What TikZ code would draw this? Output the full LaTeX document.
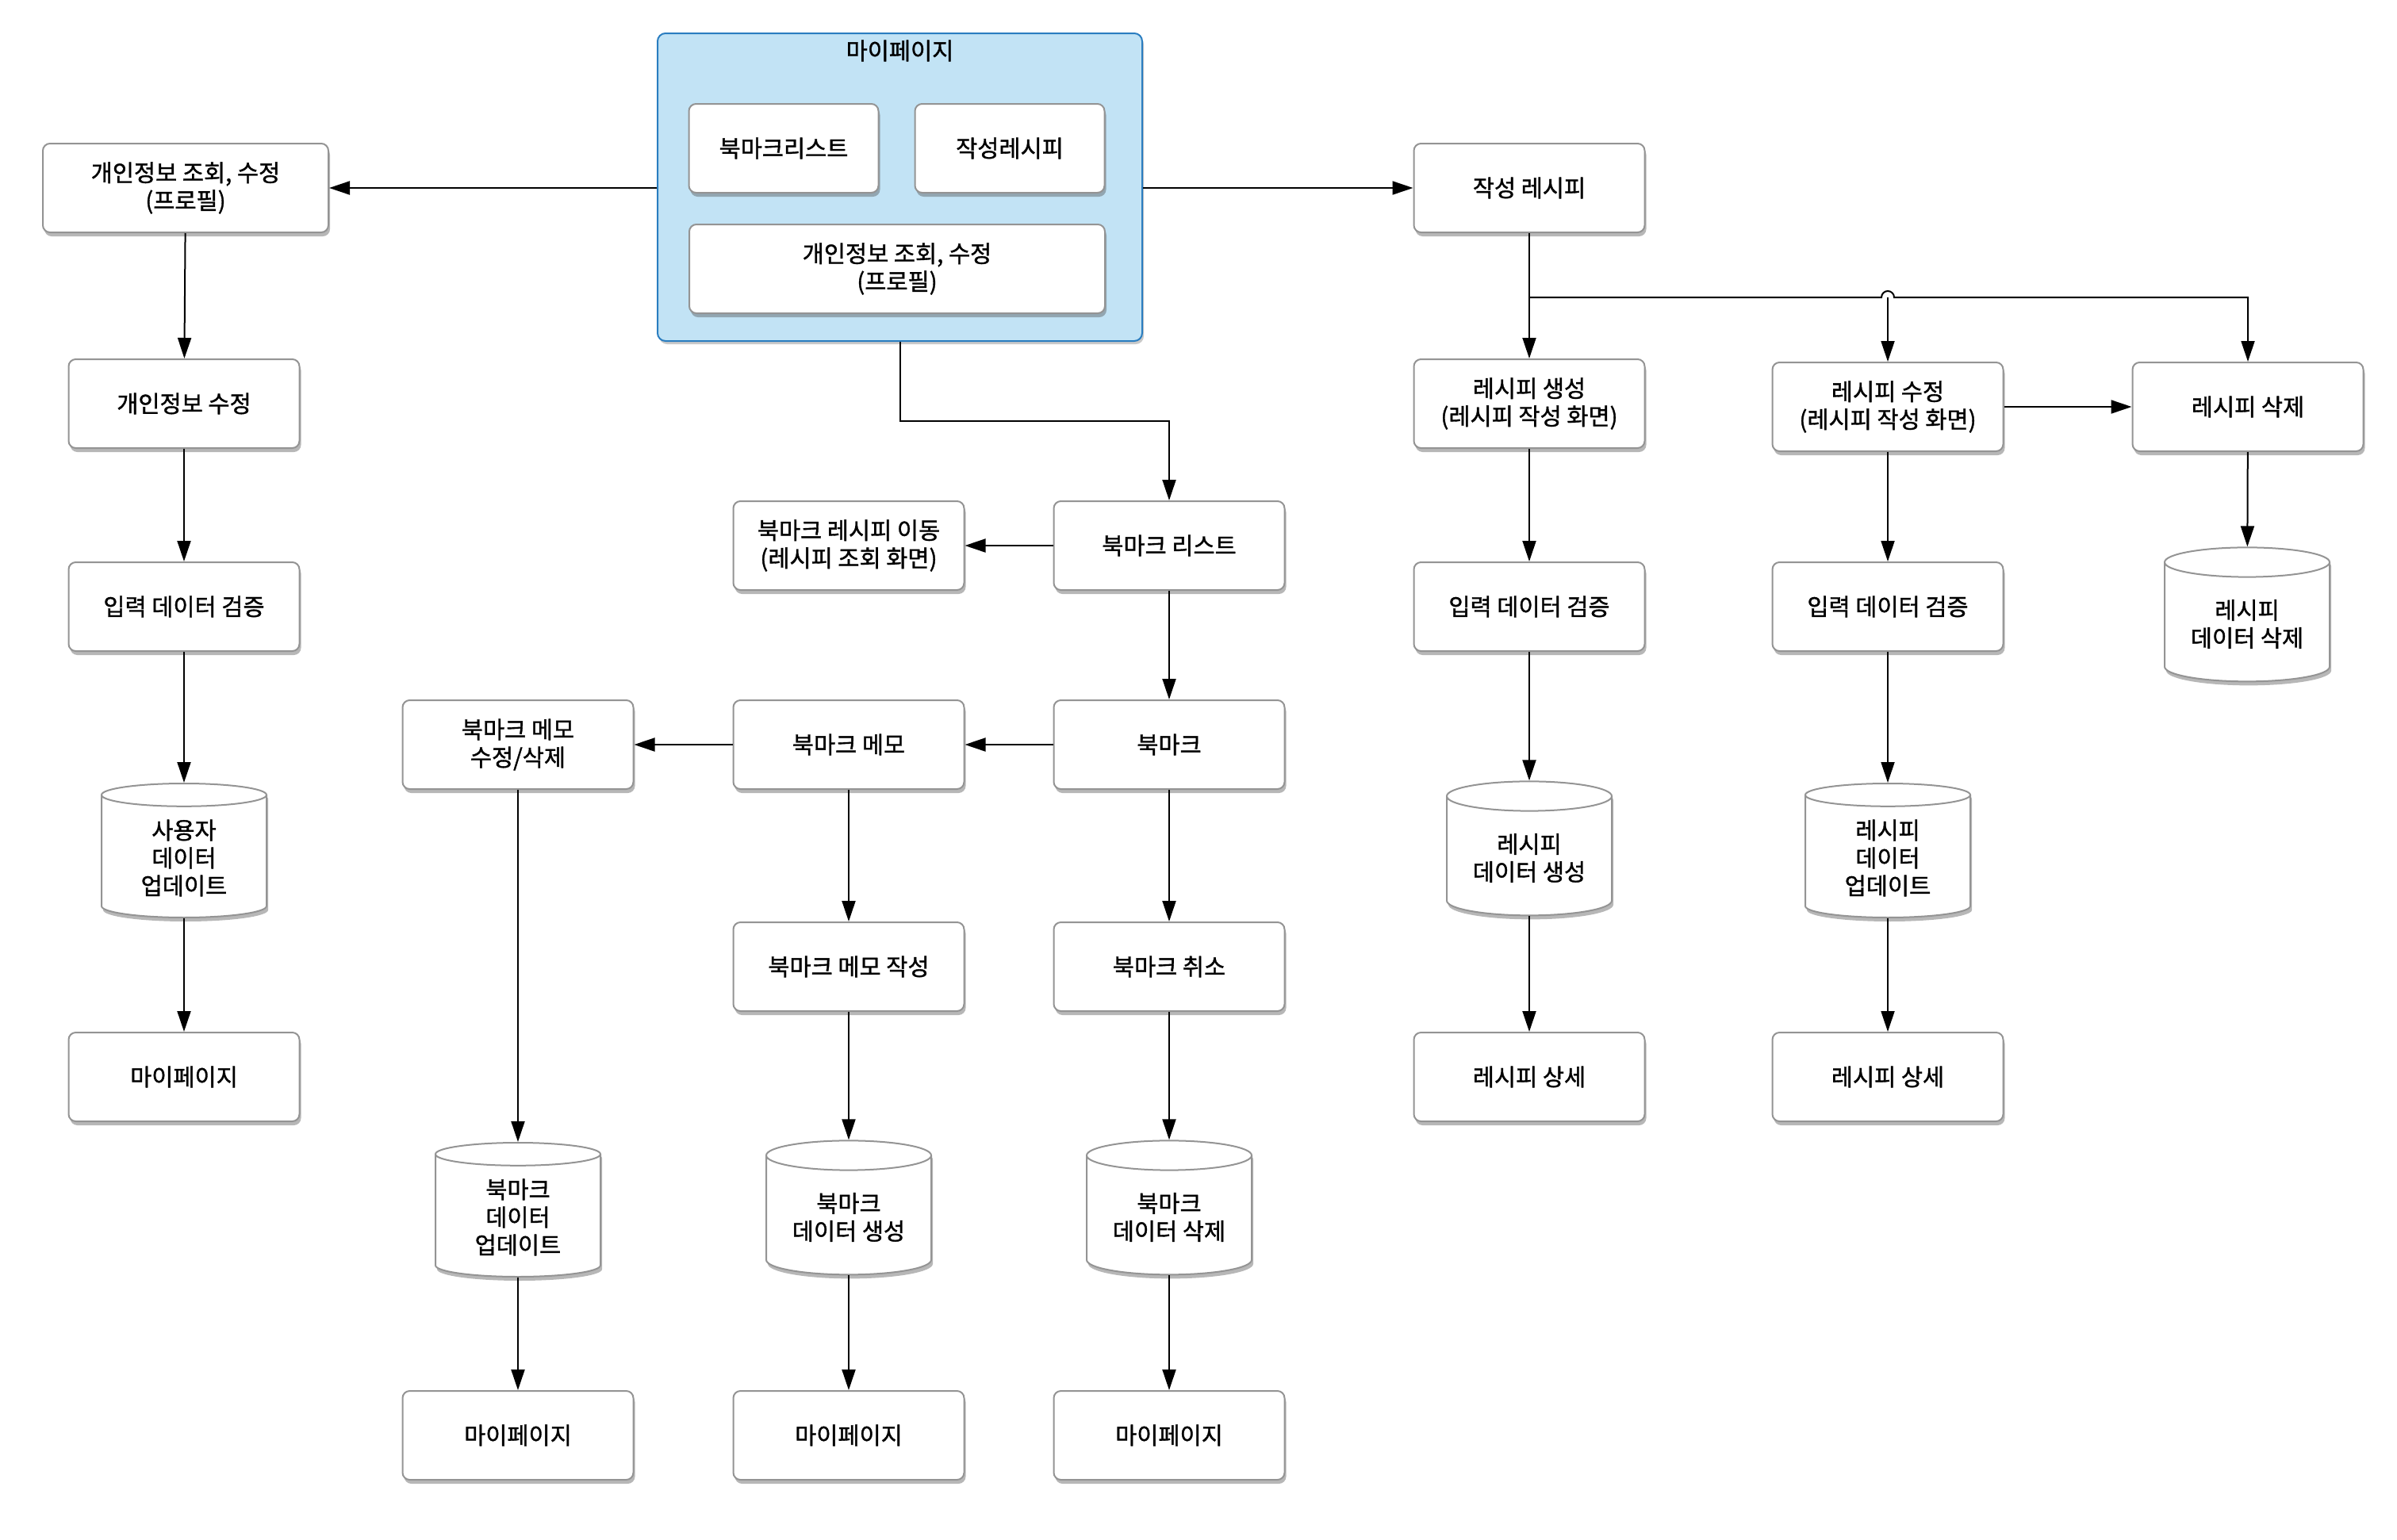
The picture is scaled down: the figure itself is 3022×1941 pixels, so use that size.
\documentclass[tikz,border=0pt]{standalone}
\usepackage{fontspec}
\setmainfont{Noto Sans CJK KR}[FakeBold=1.2]
\usetikzlibrary{arrows.meta,shapes.geometric,shadows,calc}
\definecolor{paneblue}{HTML}{C2E3F5}
\definecolor{paneedge}{HTML}{2A7DC0}

\begin{document}
\begin{tikzpicture}[x=1pt,y=-1pt,
    box/.style={draw=black!42,line width=2pt,fill=white,rounded corners=9pt,
      minimum width=291pt,minimum height=112pt,align=center,
      font=\fontsize{29.5}{35}\selectfont,
      drop shadow={shadow xshift=2pt,shadow yshift=-5pt,opacity=.4,fill=black!70}},
    db/.style={cylinder,shape border rotate=90,aspect=.25,draw=black!42,line width=2pt,
      fill=white,minimum width=208pt,minimum height=169pt,align=center,
      font=\fontsize{29.5}{35}\selectfont,
      drop shadow={shadow xshift=2pt,shadow yshift=-5pt,opacity=.4,fill=black!70}},
    flow/.style={line width=2pt,-{Triangle[length=26pt,width=17pt]}}]
    \useasboundingbox (0,0) rectangle (3022,1941);

    % Mypage panel
    \node[draw=paneedge,line width=2pt,fill=paneblue,rounded corners=10pt,
      minimum width=611pt,minimum height=388pt,
      drop shadow={shadow xshift=2pt,shadow yshift=-4pt,opacity=.3,fill=black!70}]
      (mypage) at (1134.5,236) {};
    \node[font=\fontsize{29.5}{35}\selectfont] (mypageTitle) at (1134.5,64) {마이페이지};
    \node[box,minimum width=239pt] (pBookmark) at (988,187) {북마크리스트};
    \node[box,minimum width=239pt] (pRecipe) at (1273,187) {작성레시피};
    \node[box,minimum width=524pt] (pProfile) at (1131,339) {개인정보 조회, 수정\\(프로필)};

    % Profile column
    \node[box,minimum width=360pt] (lProfile) at (234,237) {개인정보 조회, 수정\\(프로필)};
    \node[box] (lEdit) at (232,509) {개인정보 수정};
    \node[box] (lCheck) at (232,765) {입력 데이터 검증};
    \node[db] (lDB) at (232,1082) {사용자\\데이터\\업데이트};
    \node[box] (lMy) at (232,1358) {마이페이지};

    % Bookmark part
    \node[box] (bList) at (1474,688) {북마크 리스트};
    \node[box] (bMove) at (1070,688) {북마크 레시피 이동\\(레시피 조회 화면)};
    \node[box] (bMark) at (1474,939) {북마크};
    \node[box] (bMemo) at (1070,939) {북마크 메모};
    \node[box] (bMemoEdit) at (653,939) {북마크 메모\\수정/삭제};
    \node[box] (bMemoNew) at (1070,1219) {북마크 메모 작성};
    \node[box] (bCancel) at (1474,1219) {북마크 취소};
    \node[db] (bUpdDB) at (653,1535) {북마크\\데이터\\업데이트};
    \node[db] (bNewDB) at (1070,1535) {북마크\\데이터 생성};
    \node[db] (bDelDB) at (1474,1535) {북마크\\데이터 삭제};
    \node[box] (bMy1) at (653,1810) {마이페이지};
    \node[box] (bMy2) at (1070,1810) {마이페이지};
    \node[box] (bMy3) at (1474,1810) {마이페이지};

    % Recipe part
    \node[box] (rMine) at (1928,237) {작성 레시피};
    \node[box] (rNew) at (1928,509) {레시피 생성\\(레시피 작성 화면)};
    \node[box] (rEdit) at (2380,513) {레시피 수정\\(레시피 작성 화면)};
    \node[box] (rDel) at (2834,513) {레시피 삭제};
    \node[db] (rDelDB) at (2833,787) {레시피\\데이터 삭제};
    \node[box] (rCheck1) at (1928,765) {입력 데이터 검증};
    \node[box] (rCheck2) at (2380,765) {입력 데이터 검증};
    \node[db] (rNewDB) at (1928,1082) {레시피\\데이터 생성};
    \node[db] (rEditDB) at (2380,1082) {레시피\\데이터\\업데이트};
    \node[box] (rDetail1) at (1928,1358) {레시피 상세};
    \node[box] (rDetail2) at (2380,1358) {레시피 상세};

    % Draw edges
    \draw[flow] (mypage.west |- lProfile.east) -- (lProfile.east);
    \draw[flow] (mypage.east |- rMine.west) -- (rMine.west);
    \draw[flow] (mypage.south) -- ++(0,100) -| (bList.north);

    \draw[flow] (lProfile) -- (lEdit);
    \draw[flow] (lEdit) -- (lCheck);
    \draw[flow] (lCheck) -- (lDB);
    \draw[flow] (lDB) -- (lMy);

    \draw[flow] (bList) -- (bMove);
    \draw[flow] (bList) -- (bMark);
    \draw[flow] (bMark) -- (bMemo);
    \draw[flow] (bMemo) -- (bMemoEdit);
    \draw[flow] (bMemoEdit) -- (bUpdDB);
    \draw[flow] (bUpdDB) -- (bMy1);
    \draw[flow] (bMemo) -- (bMemoNew);
    \draw[flow] (bMemoNew) -- (bNewDB);
    \draw[flow] (bNewDB) -- (bMy2);
    \draw[flow] (bMark) -- (bCancel);
    \draw[flow] (bCancel) -- (bDelDB);
    \draw[flow] (bDelDB) -- (bMy3);

    \coordinate (fork) at ($(rMine.south)+(0,81)$);
    \draw[flow] (rMine) -- (rNew);
    \draw[flow] (fork) -- ($(fork -| rEdit.north)+(-8,0)$)
      arc[start angle=180,end angle=360,radius=8] -| (rDel.north);
    \draw[flow] (fork -| rEdit.north) -- (rEdit.north);
    \draw[flow] (rEdit) -- (rDel);
    \draw[flow] (rDel) -- (rDelDB);
    \draw[flow] (rNew) -- (rCheck1);
    \draw[flow] (rCheck1) -- (rNewDB);
    \draw[flow] (rNewDB) -- (rDetail1);
    \draw[flow] (rEdit) -- (rCheck2);
    \draw[flow] (rCheck2) -- (rEditDB);
    \draw[flow] (rEditDB) -- (rDetail2);
\end{tikzpicture}
\end{document}
